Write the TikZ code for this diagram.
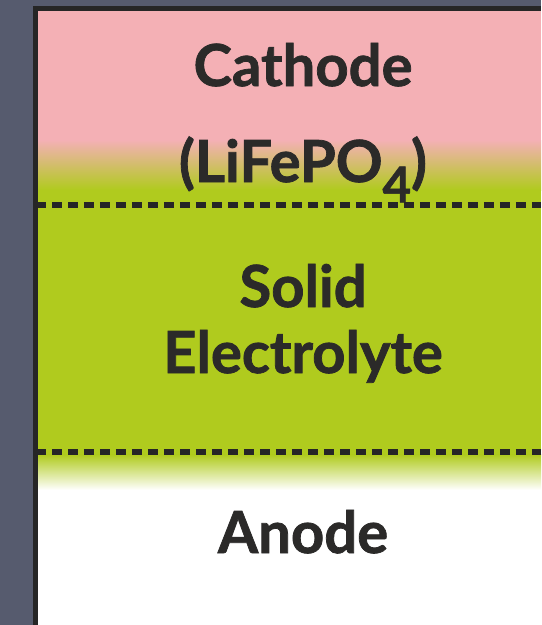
\documentclass[tikz,border=0pt]{standalone}
\usepackage{fontspec}
\setmainfont{Lato}[BoldFeatures={FakeBold=1.3}]
\usepackage{xcolor}
\usepackage{tikz}
\usetikzlibrary{positioning}
\definecolor{CellBack}{RGB}{86,91,110}
\definecolor{CellFrame}{RGB}{38,38,38}
\definecolor{CathPink}{RGB}{244,176,181}
\definecolor{ElecGreen}{RGB}{176,203,30}
\definecolor{CellText}{RGB}{43,42,41}

\begin{document}
\begin{tikzpicture}[
      lbl/.style={anchor=base, font=\fontsize{33}{33}\selectfont\bfseries,
                  text=CellText, inner sep=0pt},
      sep/.style={draw=CellFrame, line width=0.12cm,
                  dash pattern=on 0.2cm off 0.12cm}
    ]
    \useasboundingbox (0,0) rectangle (10.82,-12.5);
    \fill[CellBack] (0,0) rectangle (10.82,-12.5);

    % layers, top to bottom
    \fill[white] (0.76,-0.22) rectangle (10.82,-12.5);
    \fill[CathPink] (0.76,-0.22) rectangle (10.82,-2.8);
    \shade[top color=CathPink, bottom color=ElecGreen]
          (0.76,-2.8) rectangle (10.82,-3.8);
    \fill[ElecGreen] (0.76,-3.79) rectangle (10.82,-9.1);
    \shade[top color=ElecGreen, bottom color=white]
          (0.76,-9.09) rectangle (10.82,-9.8);

    \draw[CellFrame, line width=0.1cm] (0.71,-12.5) -- (0.71,-0.17) -- (10.82,-0.17);

    \draw[sep] (0.72,-4.1) -- (10.82,-4.1);
    \draw[sep] (0.72,-9.04) -- (10.82,-9.04);

    \node[lbl] (cath)  at (6.06,-1.72)  {Cathode};
    \node[lbl] (lfp)   at (6.06,-3.64)
          {(LiFePO\raisebox{-0.35em}{\fontsize{28}{28}\selectfont 4})};
    \node[lbl] (solid) at (6.06,-6.14)  {Solid};
    \node[lbl] (elec)  at (6.06,-7.46)  {Electrolyte};
    \node[lbl] (anode) at (6.06,-11.06) {Anode};
  \end{tikzpicture}
\end{document}
